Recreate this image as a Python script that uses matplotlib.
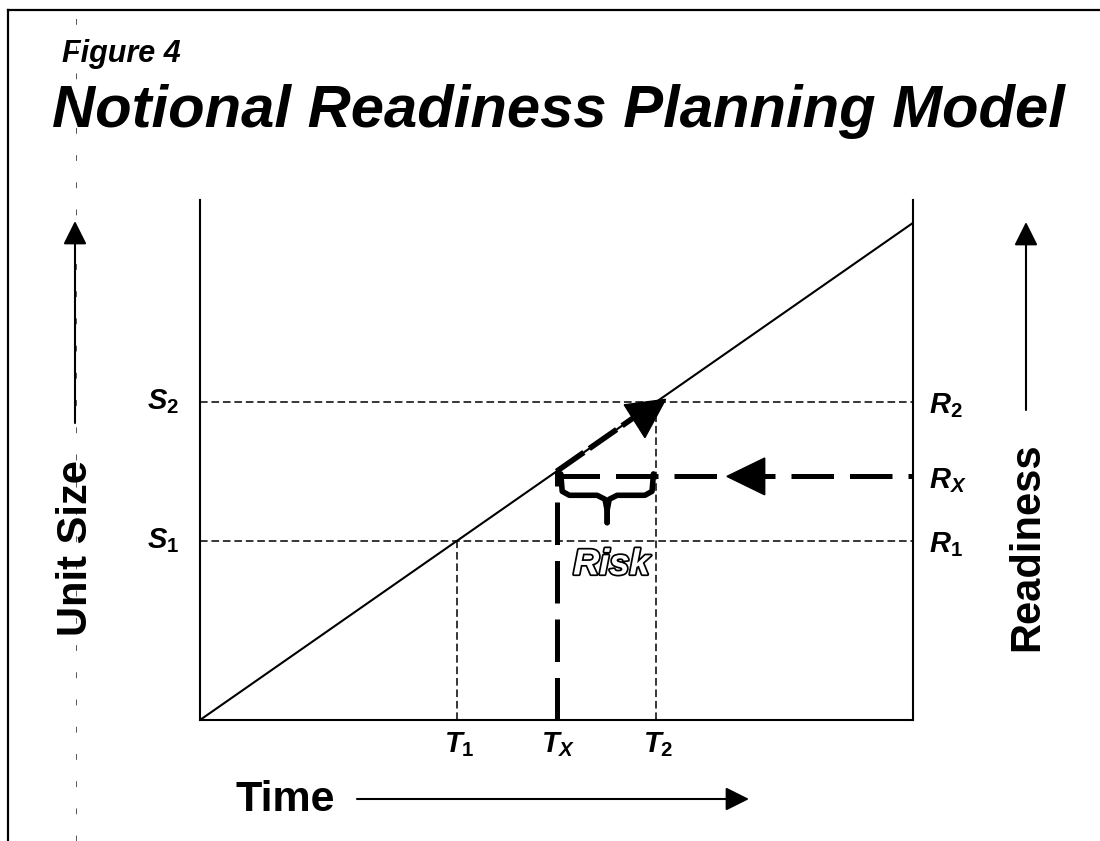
import matplotlib
matplotlib.use("Agg")
import matplotlib.pyplot as plt
import matplotlib.patheffects as pe
from matplotlib.patches import FancyArrowPatch, Polygon
from matplotlib.lines import Line2D

plt.rcParams['font.family'] = ['Liberation Sans', 'DejaVu Sans']
plt.rcParams['mathtext.fontset'] = 'custom'
plt.rcParams['mathtext.it'] = 'Liberation Sans:italic:bold'
plt.rcParams['mathtext.rm'] = 'Liberation Sans:bold'
plt.rcParams['mathtext.bf'] = 'Liberation Sans:italic:bold'

# notional values (same scale on both axes, the model line is y = x)
time_range = [0, 10]
model_line = [0, 10]
T1, Tx, T2 = 3.6, 5.0, 6.4
S1, S2 = 3.6, 6.4
Rx = 4.9
size_labels = [r'$S_1$', r'$S_2$']
readiness_labels = [r'$R_1$', r'$R_X$', r'$R_2$']
time_labels = [r'$T_1$', r'$T_X$', r'$T_2$']

W, H = 1100, 841
fig = plt.figure(figsize=(W / 100, H / 100), dpi=100)


def fx(px, py):
    # figure pixels (from top-left) to figure fraction
    return (px / W, 1 - py / H)


ax = fig.add_axes([200 / W, 1 - 720 / H, 713 / W, 520 / H])
ax.set_xlim(0, 10)
ax.set_ylim(0, 10.46)
ax.set_xticks([])
ax.set_yticks([])
ax.spines['top'].set_visible(False)
for s in ['left', 'right', 'bottom']:
    ax.spines[s].set_linewidth(1.5)

thin = dict(color='black', lw=1.1, linestyle=(0, (5, 2.5)))
thick = dict(color='black', lw=3.6, linestyle=(0, (8.5, 3.2)), solid_capstyle='butt')

# model line
ax.plot(time_range, model_line, color='black', lw=1.5)

# guide lines
ax.plot([0, 10], [S2, S2], **thin)
ax.plot([0, 10], [S1, S1], **thin)
ax.plot([T1, T1], [0, S1], **thin)
ax.plot([T2, T2], [0, S2], **thin)

# thick dashed Rx path
ax.plot([Tx, 10], [Rx, Rx], **thick)
ax.plot([Tx, Tx], [0, Tx], **thick)
ax.plot([Tx, T2 - 0.3], [Tx, T2 - 0.3], color='black', lw=4, linestyle=(0, (6, 1.2)))

# arrow heads on the Rx path
ax.add_patch(Polygon([[7.39, Rx], [7.92, Rx + 0.37], [7.92, Rx - 0.37]],
                     closed=True, color='black'))
ax.add_patch(Polygon([[T2 - 0.45, S2 - 0.06], [T2 + 0.13, S2 + 0.05], [T2 - 0.16, S2 - 0.72]],
                     closed=True, color='black'))

# risk brace
x0, x1 = Tx + 0.06, T2 - 0.04
xm = (x0 + x1) / 2
yb = Rx - 0.38
brace_x = [x0, x0 + 0.02, x0 + 0.12, xm - 0.14, xm - 0.03, xm, xm,
           xm, xm + 0.03, xm + 0.14, x1 - 0.12, x1 - 0.02, x1]
brace_y = [Rx + 0.05, yb + 0.08, yb, yb, yb - 0.08, yb - 0.3, yb - 0.55,
           yb - 0.3, yb - 0.08, yb, yb, yb + 0.08, Rx + 0.05]
ax.plot(brace_x[:7], brace_y[:7], color='black', lw=4, solid_joinstyle='round',
        solid_capstyle='round')
ax.plot(brace_x[6:], brace_y[6:], color='black', lw=4, solid_joinstyle='round',
        solid_capstyle='round')
ax.text(xm + 0.06, Rx - 1.78, 'Risk', fontsize=26, fontweight='bold', style='italic',
        color='white', ha='center', va='center',
        path_effects=[pe.Stroke(linewidth=2.5, foreground='black'), pe.Normal()])

# axis labels for the levels
for lab, val in zip(size_labels, [S1, S2]):
    ax.text(-0.52, val, lab, fontsize=21, ha='center', va='center')
for lab, val in zip(readiness_labels, [S1, Rx, S2]):
    ax.text(10.22, val - 0.08, lab, fontsize=21, ha='left', va='center')
for lab, val in zip(time_labels, [T1, Tx, T2]):
    ax.text(val + 0.03, -0.2, lab, fontsize=21, ha='center', va='top')

# titles
fig.text(*fx(62, 62), 'Figure 4', fontsize=22, fontweight='bold', style='italic',
         ha='left', va='baseline')
fig.text(*fx(52, 127), 'Notional Readiness Planning Model', fontsize=43,
         fontweight='bold', style='italic', ha='left', va='baseline')

# side labels with arrows
fig.text(*fx(76, 548), 'Unit Size', fontsize=30, fontweight='bold', rotation=90,
         ha='center', va='center')
fig.text(*fx(1027, 547), 'Readiness', fontsize=30, fontweight='bold', rotation=90,
         ha='center', va='center')
fig.text(*fx(236, 800), 'Time', fontsize=31, fontweight='bold', ha='left', va='center')

arrow_kw = dict(arrowstyle='-|>,head_length=0.72,head_width=0.36', mutation_scale=20,
                color='black', lw=1.5, transform=fig.transFigure, shrinkA=0, shrinkB=0)
fig.add_artist(FancyArrowPatch(fx(75, 423), fx(75, 221), **arrow_kw))
fig.add_artist(FancyArrowPatch(fx(1026, 410), fx(1026, 222), **arrow_kw))
fig.add_artist(FancyArrowPatch(fx(357, 799), fx(749, 799), **arrow_kw))

# page frame and scan mark
fig.add_artist(Line2D([8 / W, 8 / W], [0, 1 - 10 / H], color='black', lw=1.6,
                      transform=fig.transFigure))
fig.add_artist(Line2D([8 / W, 1], [1 - 10 / H, 1 - 10 / H], color='black', lw=1.6,
                      transform=fig.transFigure))
fig.add_artist(Line2D([76 / W, 76 / W], [0, 1], color='#555555', lw=0.7,
                      linestyle=(0, (6, 22)), transform=fig.transFigure, zorder=0))

fig.savefig('out.png', dpi=100)
